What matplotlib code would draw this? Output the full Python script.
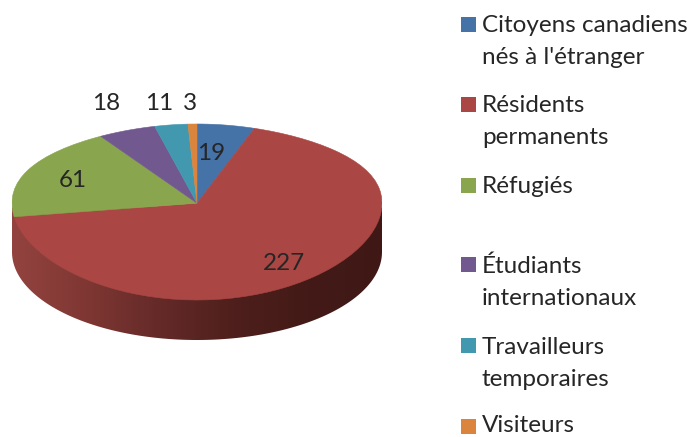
#!/usr/bin/env python
import numpy as np
import matplotlib
matplotlib.use('Agg')
import matplotlib.pyplot as plt
from matplotlib.colors import LinearSegmentedColormap
from matplotlib.patches import Polygon, Rectangle
from matplotlib.transforms import Affine2D

# Chart data
categories = ['Citoyens canadiens', 'Résidents', 'Réfugiés',
              'Étudiants', 'Travailleurs', 'Visiteurs']
second_lines = ["nés à l'étranger", 'permanents', '', 'internationaux', 'temporaires', '']
values = [19, 227, 61, 18, 11, 3]
colors = ['#4572A7', '#AA4643', '#89A54E', '#71588F', '#4198AF', '#DB843D']

plt.rcParams['font.family'] = ['Lato', 'DejaVu Sans']
font_size = 17.5
text_color = '#262626'

# Pie geometry in picture pixels
width, height = 690, 437
left, right = 12, 382
mid_y = 212
radius_y = 88
depth = 40 / radius_y
apex_shift = 0.10
top_narrow = 0.12

fig = plt.figure(figsize=(width / 100, height / 100), dpi=100)
y_low, y_high = -1.6, 1.1
ax = fig.add_axes([left / width,
                   (height - (mid_y - y_low * radius_y)) / height,
                   (right - left) / width,
                   (y_high - y_low) * radius_y / height])

wedges, _ = ax.pie(values, colors=colors, startangle=90, counterclock=False, radius=1)
ax.set_aspect('auto')


def tilt(points):
    # Fake perspective: centre of the pie goes up, the far side gets narrower
    out = points.copy()
    out[:, 0] = points[:, 0] * (1 - top_narrow * np.maximum(points[:, 1], 0) ** 3)
    out[:, 1] = points[:, 1] + apex_shift * (1 - np.minimum(points[:, 1] ** 2, 1))
    return out


# Side wall of the pie, gradient clipped to the lower half of the rim
t = np.linspace(np.pi, 2 * np.pi, 200)
rim = np.column_stack([np.cos(t), np.sin(t) - depth])
wall = Polygon(np.vstack([[[-1, 0.05]], rim, [[1, 0.05]]]), transform=ax.transData,
               facecolor='none', edgecolor='none')
ax.add_patch(wall)
side_map = LinearSegmentedColormap.from_list(
    'side', ['#93433F', '#7F3733', '#642A28', '#4E1F1C', '#431A17', '#3F1815'])
image = ax.imshow(np.linspace(0, 1, 256).reshape(1, -1), cmap=side_map, aspect='auto',
                  extent=(-1, 1, y_low, y_high), zorder=0.5)
image.set_clip_path(wall)

# Top face, wedges bent so their tip sits above the middle of the ellipse
scale = Affine2D().scale(300)
for wedge, color in zip(wedges, colors):
    poly = wedge.get_path().to_polygons(scale, closed_only=False)[0] / 300
    wedge.remove()
    ax.add_patch(Polygon(tilt(poly), facecolor=color, edgecolor=color, linewidth=0.4, zorder=2))

ax.set_xlim(-1, 1)
ax.set_ylim(y_low, y_high)
ax.axis('off')

# Overlay in pixels for labels and legend
over = fig.add_axes([0, 0, 1, 1])
over.set_xlim(0, width)
over.set_ylim(height, 0)
over.axis('off')

label_pos = [(211, 160), (284, 270), (73, 187), (106, 110), (159, 110), (190, 110)]
for value, (x, y) in zip(values, label_pos):
    over.text(x, y, str(value), ha='center', va='baseline', fontsize=font_size, color=text_color)

legend_y = [32, 112, 193, 273, 354, 432]
second_y = [64, 144, 0, 305, 386, 0]
swatch_y = [17, 97, 178, 257, 338, 419]
for i, name in enumerate(categories):
    over.add_patch(Rectangle((461, swatch_y[i]), 15, 15, facecolor=colors[i], edgecolor='none'))
    over.text(482, legend_y[i], name, va='baseline', fontsize=font_size, color=text_color)
    if second_lines[i]:
        over.text(482, second_y[i], second_lines[i], va='baseline', fontsize=font_size, color=text_color)

fig.savefig('out.png', dpi=100)
